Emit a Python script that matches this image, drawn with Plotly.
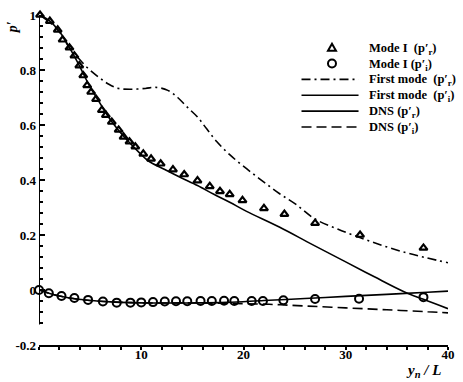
import plotly.graph_objects as go

# Mode I results (symbols)
mode1_r_x = [0.1, 1.06, 1.83, 2.31, 2.98, 3.46, 3.94, 4.33, 4.71, 5.1, 5.58, 6.15, 6.54, 7.12,
             7.79, 8.27, 8.85, 9.42, 10.2, 10.96, 11.9, 13.1, 14.2, 15.5, 16.7, 17.7, 18.65,
             19.9, 22.0, 24.0, 27.0, 31.4, 37.6]
mode1_r_y = [1.0, 0.978, 0.946, 0.91, 0.881, 0.852, 0.816, 0.78, 0.744, 0.72, 0.694, 0.654, 0.636,
             0.611, 0.582, 0.557, 0.539, 0.521, 0.495, 0.477, 0.459, 0.438, 0.42, 0.398, 0.377,
             0.359, 0.348, 0.326, 0.297, 0.276, 0.243, 0.2, 0.153]

mode1_i_x = [0.0, 0.96, 2.2, 3.46, 4.8, 6.25, 7.6, 8.94, 10.0, 11.15, 12.3, 13.4, 14.5, 15.8,
             16.9, 18.1, 19.1, 20.8, 21.9, 23.9, 27.0, 31.3, 37.6]
mode1_i_y = [0.0, -0.012, -0.022, -0.029, -0.036, -0.042, -0.046, -0.046, -0.045, -0.044, -0.042,
             -0.041, -0.041, -0.040, -0.040, -0.039, -0.040, -0.040, -0.040, -0.037, -0.033,
             -0.032, -0.026]

# First mode, real part (dash-dot)
first_r_x = [0.1, 1.83, 2.98, 3.65, 4.71, 5.87, 6.83, 7.79, 9.04, 10.4, 11.44, 12.6, 13.56, 14.5,
             15.5, 16.4, 17.4, 18.65, 20.3, 21.9, 23.5, 25.1, 27.0, 29.2, 31.5, 33.75, 35.96,
             37.9, 40.0]
first_r_y = [1.0, 0.946, 0.881, 0.852, 0.809, 0.773, 0.748, 0.733, 0.73, 0.733, 0.737, 0.726,
             0.70, 0.665, 0.629, 0.586, 0.539, 0.492, 0.441, 0.395, 0.351, 0.312, 0.258, 0.222,
             0.189, 0.16, 0.135, 0.117, 0.099]

# First mode, imaginary part (solid, near zero)
first_i_x = [0.0, 1.0, 2.0, 3.5, 5.0, 7.0, 9.0, 11.0, 13.0, 15.0, 18.4, 22.0, 26.0, 30.0, 34.0,
             38.0, 40.0]
first_i_y = [0.0, -0.012, -0.022, -0.032, -0.038, -0.043, -0.046, -0.047, -0.047, -0.047,
             -0.045, -0.038, -0.031, -0.023, -0.016, -0.008, -0.004]

# DNS, real part (solid)
dns_r_x = [0.1, 1.06, 2.02, 2.98, 3.94, 4.9, 5.87, 6.83, 7.79, 8.75, 9.71, 10.67, 12.3, 13.85,
           15.5, 17.1, 18.65, 20.3, 23.5, 26.7, 29.9, 32.8, 35.7, 37.6, 40.0]
dns_r_y = [1.0, 0.978, 0.939, 0.881, 0.816, 0.745, 0.685, 0.627, 0.58, 0.54, 0.503, 0.47, 0.438,
           0.409, 0.38, 0.348, 0.319, 0.286, 0.229, 0.166, 0.104, 0.048, -0.006, -0.034, -0.068]

# DNS, imaginary part (dashed)
dns_i_x = [0.0, 1.0, 2.0, 3.5, 5.0, 7.0, 9.0, 11.0, 13.0, 15.0, 17.0, 19.0, 22.5, 26.0, 30.0,
           34.0, 38.0, 40.0]
dns_i_y = [0.0, -0.012, -0.022, -0.032, -0.038, -0.043, -0.046, -0.047, -0.047, -0.047, -0.048,
           -0.049, -0.052, -0.058, -0.065, -0.072, -0.079, -0.083]

x_ticks = [10, 20, 30, 40]
y_ticks = [-0.2, 0, 0.2, 0.4, 0.6, 0.8, 1]
y_tick_text = ["-0.2", "0", "0.2", "0.4", "0.6", "0.8", "1"]
y_minor = [-0.12, -0.08, -0.04, 0.04, 0.08, 0.12, 0.16, 0.24, 0.28, 0.32, 0.36, 0.44, 0.48,
           0.52, 0.56, 0.64, 0.68, 0.72, 0.76, 0.84, 0.88, 0.92, 0.96]

SERIF = "Liberation Serif, Times New Roman, serif"
W, H = 463, 382
ML, MR, MT, MB = 39, 8, 12, 37

fig = go.Figure()

line_w = 1.6
fig.add_trace(go.Scatter(x=first_r_x, y=first_r_y, mode="lines", cliponaxis=False,
                         line=dict(color="black", width=line_w, dash="9px,4px,2px,4px"),
                         line_shape="spline", showlegend=False))
fig.add_trace(go.Scatter(x=dns_r_x, y=dns_r_y, mode="lines", cliponaxis=False,
                         line=dict(color="black", width=line_w),
                         line_shape="spline", showlegend=False))
fig.add_trace(go.Scatter(x=first_i_x, y=first_i_y, mode="lines", cliponaxis=False,
                         line=dict(color="black", width=line_w),
                         line_shape="spline", showlegend=False))
fig.add_trace(go.Scatter(x=dns_i_x, y=dns_i_y, mode="lines", cliponaxis=False,
                         line=dict(color="black", width=line_w, dash="10px,5px"),
                         line_shape="spline", showlegend=False))
fig.add_trace(go.Scatter(x=mode1_r_x, y=mode1_r_y, mode="markers", cliponaxis=False,
                         marker=dict(symbol="triangle-up-open", size=7, color="black",
                                     line=dict(width=2.2, color="black")),
                         showlegend=False))
fig.add_trace(go.Scatter(x=mode1_i_x, y=mode1_i_y, mode="markers", cliponaxis=False,
                         marker=dict(symbol="circle-open", size=8, color="black",
                                     line=dict(width=2, color="black")),
                         showlegend=False))

# paper-coordinate helpers (pixel -> paper fraction)
pw, ph = W - ML - MR, H - MT - MB


def px(x):
    return (x - ML) / pw


def py(y):
    return 1 - (y - MT) / ph


shapes = []
# vertical axis line
shapes.append(dict(type="line", xref="x", yref="y", x0=0, x1=0, y0=1.0, y1=-0.125,
                   line=dict(color="black", width=2)))

# legend
rows = [45, 61, 77, 93, 109, 125]
labels = ["Mode I  (p\u2032<sub>r</sub>)", "Mode I (p\u2032<sub>i</sub>)",
          "First mode  (p\u2032<sub>r</sub>)", "First mode  (p\u2032<sub>i</sub>)",
          "DNS (p\u2032<sub>r</sub>)", "DNS (p\u2032<sub>i</sub>)"]
styles = [None, None, "9px,4px,2px,4px", "solid", "solid", "10px,5px"]
for r, s in zip(rows, styles):
    if s is not None:
        shapes.append(dict(type="line", xref="paper", yref="paper", x0=px(306), x1=px(364),
                           y0=py(r), y1=py(r), line=dict(color="black", width=line_w, dash=s)))
# triangle and circle samples
shapes.append(dict(type="path", xref="paper", yref="paper", xsizemode="pixel",
                   ysizemode="pixel", xanchor=px(337), yanchor=py(rows[0]),
                   path="M -4 -3 L 4 -3 L 0 4 Z", line=dict(color="black", width=2)))
shapes.append(dict(type="circle", xref="paper", yref="paper", xsizemode="pixel",
                   ysizemode="pixel", xanchor=px(337), yanchor=py(rows[1]),
                   x0=-4, x1=4, y0=-4, y1=4, line=dict(color="black", width=2)))

annotations = []
for r, t in zip(rows, labels):
    annotations.append(dict(xref="paper", yref="paper", x=px(373), y=py(r + 1),
                            text="<b>" + t + "</b>",
                            showarrow=False, xanchor="left", yanchor="middle",
                            font=dict(family=SERIF, size=12.5, color="black")))

# axis titles
annotations.append(dict(xref="paper", yref="paper", x=px(12), y=py(24), text="<b><i>p\u2032</i></b>",
                        textangle=-90, showarrow=False, xanchor="center", yanchor="middle",
                        font=dict(family=SERIF, size=14, color="black")))
annotations.append(dict(xref="paper", yref="paper", x=px(430), y=py(371),
                        text="<b><i>y<sub>n</sub> / L</i></b>",
                        showarrow=False, xanchor="center", yanchor="middle",
                        font=dict(family=SERIF, size=15, color="black")))

fig.update_layout(
    width=W, height=H,
    margin=dict(l=ML, r=MR, t=MT, b=MB, pad=0),
    paper_bgcolor="white", plot_bgcolor="white",
    shapes=shapes, annotations=annotations,
    showlegend=False,
    xaxis=dict(range=[0, 40], tickvals=x_ticks, ticktext=[str(v) for v in x_ticks],
               showgrid=False, zeroline=False, showline=True, linecolor="black", linewidth=2,
               ticks="outside", ticklen=3, tickwidth=1.5, tickcolor="black",
               minor=dict(dtick=2, ticks="outside", ticklen=3, tickwidth=1.5, tickcolor="black"),
               tickfont=dict(family=SERIF, size=13, color="black", weight="bold"),
               ticklabelstandoff=-7),
    yaxis=dict(range=[-0.2, 1.0], tickvals=y_ticks, ticktext=y_tick_text,
               showgrid=False, zeroline=False, showline=False,
               ticks="inside", ticklen=6, tickwidth=1.5, tickcolor="black",
               minor=dict(tickvals=y_minor, ticks="inside", ticklen=4, tickwidth=1.5,
                          tickcolor="black"),
               tickfont=dict(family=SERIF, size=13, color="black", weight="bold"),
               ticklabelstandoff=2),
)

fig.write_html("out.html")
